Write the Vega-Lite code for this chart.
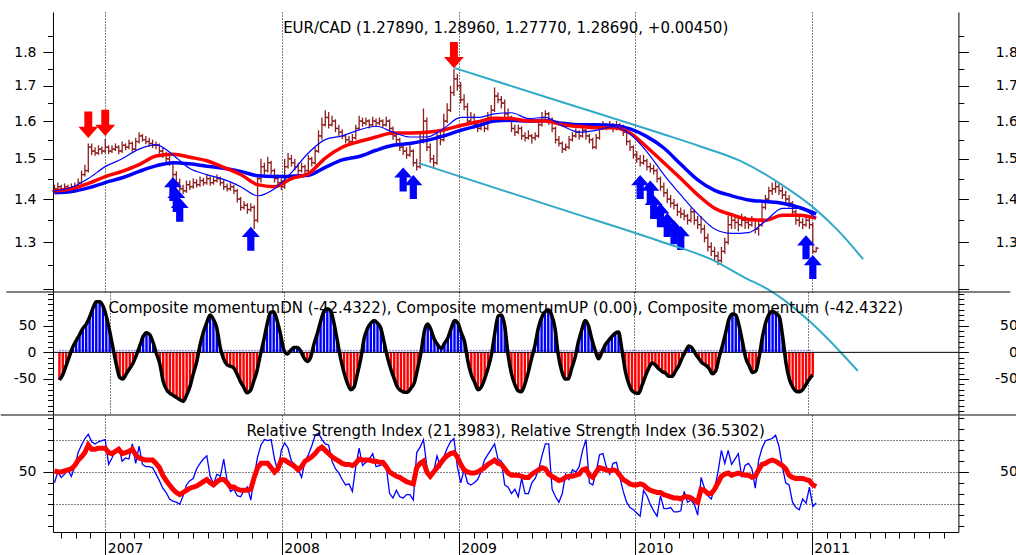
{
"$schema":"https://vega.github.io/schema/vega-lite/v6.json",
"padding":{"top":12,"left":0,"right":0,"bottom":0},
"background":"white",
"bounds":"flush",
"spacing":0,
"config":{
 "view":{"stroke":null},
 "axis":{"labelFont":"DejaVu Sans","labelFontSize":14,"labelColor":"black","domainColor":"black","tickColor":"black","title":null},
 "title":{"font":"DejaVu Sans","fontSize":15,"fontWeight":"normal","color":"black","anchor":"middle","frame":"group","offset":-22,"baseline":"alphabetic"}
},
"resolve":{"scale":{"x":"independent","y":"independent"}},
"datasets":{
"w":[
{"d":"2006-09-18","o":1.42,"h":1.435,"l":1.415,"c":1.425,"m":-52,"r":51,"b":40},
{"d":"2006-09-25","o":1.425,"h":1.44,"l":1.42,"c":1.43,"m":-42,"r":50,"b":50},
{"d":"2006-10-02","o":1.43,"h":1.435,"l":1.412,"c":1.42,"m":-25,"r":50,"b":45},
{"d":"2006-10-09","o":1.42,"h":1.438,"l":1.415,"c":1.43,"m":-7,"r":51,"b":48},
{"d":"2006-10-16","o":1.43,"h":1.435,"l":1.418,"c":1.425,"m":10,"r":52,"b":52},
{"d":"2006-10-23","o":1.425,"h":1.438,"l":1.42,"c":1.43,"m":22,"r":53,"b":46},
{"d":"2006-10-30","o":1.43,"h":1.44,"l":1.422,"c":1.432,"m":33,"r":56,"b":55},
{"d":"2006-11-06","o":1.432,"h":1.45,"l":1.428,"c":1.44,"m":45,"r":61,"b":68},
{"d":"2006-11-13","o":1.44,"h":1.47,"l":1.437,"c":1.46,"m":53,"r":64,"b":75},
{"d":"2006-11-20","o":1.46,"h":1.485,"l":1.455,"c":1.47,"m":66,"r":68,"b":81},
{"d":"2006-11-27","o":1.47,"h":1.54,"l":1.465,"c":1.53,"m":83,"r":75,"b":85},
{"d":"2006-12-04","o":1.53,"h":1.54,"l":1.51,"c":1.52,"m":95,"r":71,"b":78},
{"d":"2006-12-11","o":1.52,"h":1.53,"l":1.508,"c":1.515,"m":95,"r":71,"b":76},
{"d":"2006-12-18","o":1.515,"h":1.535,"l":1.51,"c":1.525,"m":87,"r":72,"b":78},
{"d":"2006-12-25","o":1.525,"h":1.532,"l":1.512,"c":1.52,"m":68,"r":72,"b":79},
{"d":"2007-01-01","o":1.52,"h":1.552,"l":1.515,"c":1.53,"m":40,"r":72,"b":80},
{"d":"2007-01-08","o":1.53,"h":1.535,"l":1.512,"c":1.52,"m":8,"r":68,"b":57},
{"d":"2007-01-15","o":1.52,"h":1.535,"l":1.515,"c":1.525,"m":-23,"r":67,"b":63},
{"d":"2007-01-22","o":1.525,"h":1.54,"l":1.52,"c":1.53,"m":-47,"r":69,"b":70},
{"d":"2007-01-29","o":1.53,"h":1.535,"l":1.512,"c":1.52,"m":-50,"r":71,"b":73},
{"d":"2007-02-05","o":1.52,"h":1.545,"l":1.515,"c":1.535,"m":-40,"r":67,"b":60},
{"d":"2007-02-12","o":1.535,"h":1.54,"l":1.522,"c":1.53,"m":-30,"r":68,"b":63},
{"d":"2007-02-19","o":1.53,"h":1.55,"l":1.525,"c":1.54,"m":-20,"r":69,"b":62},
{"d":"2007-02-26","o":1.54,"h":1.545,"l":1.518,"c":1.525,"m":-5,"r":71,"b":76},
{"d":"2007-03-05","o":1.525,"h":1.555,"l":1.52,"c":1.545,"m":12,"r":66,"b":58},
{"d":"2007-03-12","o":1.545,"h":1.57,"l":1.54,"c":1.56,"m":30,"r":63,"b":74},
{"d":"2007-03-19","o":1.56,"h":1.565,"l":1.545,"c":1.55,"m":37,"r":62,"b":57},
{"d":"2007-03-26","o":1.55,"h":1.56,"l":1.538,"c":1.545,"m":33,"r":61,"b":55},
{"d":"2007-04-02","o":1.545,"h":1.555,"l":1.532,"c":1.54,"m":18,"r":61,"b":55},
{"d":"2007-04-09","o":1.54,"h":1.55,"l":1.528,"c":1.535,"m":-3,"r":61,"b":54},
{"d":"2007-04-16","o":1.535,"h":1.545,"l":1.525,"c":1.535,"m":-22,"r":58,"b":48},
{"d":"2007-04-23","o":1.535,"h":1.54,"l":1.512,"c":1.52,"m":-55,"r":54,"b":42},
{"d":"2007-04-30","o":1.52,"h":1.53,"l":1.502,"c":1.51,"m":-70,"r":47,"b":35},
{"d":"2007-05-07","o":1.51,"h":1.518,"l":1.49,"c":1.5,"m":-77,"r":42,"b":31},
{"d":"2007-05-14","o":1.5,"h":1.508,"l":1.482,"c":1.49,"m":-81,"r":38,"b":25},
{"d":"2007-05-21","o":1.49,"h":1.495,"l":1.452,"c":1.46,"m":-85,"r":34,"b":23},
{"d":"2007-05-28","o":1.46,"h":1.468,"l":1.432,"c":1.44,"m":-89,"r":31,"b":22},
{"d":"2007-06-04","o":1.44,"h":1.45,"l":1.418,"c":1.425,"m":-92,"r":29,"b":20},
{"d":"2007-06-11","o":1.425,"h":1.435,"l":1.412,"c":1.42,"m":-80,"r":31,"b":28},
{"d":"2007-06-18","o":1.42,"h":1.445,"l":1.415,"c":1.435,"m":-64,"r":33,"b":38},
{"d":"2007-06-25","o":1.435,"h":1.445,"l":1.422,"c":1.43,"m":-40,"r":35,"b":42},
{"d":"2007-07-02","o":1.43,"h":1.45,"l":1.425,"c":1.44,"m":-18,"r":36,"b":44},
{"d":"2007-07-09","o":1.44,"h":1.448,"l":1.428,"c":1.435,"m":14,"r":37,"b":53},
{"d":"2007-07-16","o":1.435,"h":1.455,"l":1.43,"c":1.445,"m":38,"r":39,"b":58},
{"d":"2007-07-23","o":1.445,"h":1.452,"l":1.432,"c":1.44,"m":56,"r":41,"b":62},
{"d":"2007-07-30","o":1.44,"h":1.46,"l":1.435,"c":1.45,"m":70,"r":43,"b":65},
{"d":"2007-08-06","o":1.45,"h":1.456,"l":1.432,"c":1.44,"m":62,"r":40,"b":46},
{"d":"2007-08-13","o":1.44,"h":1.455,"l":1.435,"c":1.445,"m":46,"r":38,"b":39},
{"d":"2007-08-20","o":1.445,"h":1.46,"l":1.44,"c":1.45,"m":10,"r":41,"b":48},
{"d":"2007-08-27","o":1.45,"h":1.455,"l":1.432,"c":1.44,"m":-12,"r":43,"b":46},
{"d":"2007-09-03","o":1.44,"h":1.448,"l":1.422,"c":1.43,"m":-23,"r":43,"b":62},
{"d":"2007-09-10","o":1.43,"h":1.438,"l":1.418,"c":1.425,"m":-26,"r":40,"b":42},
{"d":"2007-09-17","o":1.425,"h":1.44,"l":1.42,"c":1.43,"m":-29,"r":36,"b":32},
{"d":"2007-09-24","o":1.43,"h":1.435,"l":1.412,"c":1.42,"m":-40,"r":36,"b":34},
{"d":"2007-10-01","o":1.42,"h":1.425,"l":1.392,"c":1.4,"m":-54,"r":34,"b":28},
{"d":"2007-10-08","o":1.4,"h":1.405,"l":1.372,"c":1.38,"m":-65,"r":33,"b":27},
{"d":"2007-10-15","o":1.38,"h":1.395,"l":1.375,"c":1.385,"m":-76,"r":33,"b":33},
{"d":"2007-10-22","o":1.385,"h":1.39,"l":1.365,"c":1.375,"m":-72,"r":33,"b":36},
{"d":"2007-10-29","o":1.375,"h":1.39,"l":1.37,"c":1.38,"m":-55,"r":34,"b":24},
{"d":"2007-11-05","o":1.38,"h":1.385,"l":1.33,"c":1.35,"m":-35,"r":45,"b":46},
{"d":"2007-11-12","o":1.35,"h":1.46,"l":1.345,"c":1.45,"m":-5,"r":54,"b":64},
{"d":"2007-11-19","o":1.45,"h":1.5,"l":1.44,"c":1.48,"m":22,"r":58,"b":75},
{"d":"2007-11-26","o":1.48,"h":1.49,"l":1.46,"c":1.47,"m":52,"r":58,"b":80},
{"d":"2007-12-03","o":1.47,"h":1.505,"l":1.465,"c":1.49,"m":75,"r":58,"b":79},
{"d":"2007-12-10","o":1.49,"h":1.495,"l":1.46,"c":1.47,"m":76,"r":54,"b":80},
{"d":"2007-12-17","o":1.47,"h":1.475,"l":1.44,"c":1.45,"m":60,"r":50,"b":62},
{"d":"2007-12-24","o":1.45,"h":1.46,"l":1.432,"c":1.44,"m":35,"r":53,"b":50},
{"d":"2007-12-31","o":1.44,"h":1.45,"l":1.422,"c":1.43,"m":5,"r":61,"b":70},
{"d":"2008-01-07","o":1.43,"h":1.5,"l":1.425,"c":1.48,"m":-3,"r":61,"b":77},
{"d":"2008-01-14","o":1.48,"h":1.515,"l":1.475,"c":1.5,"m":3,"r":59,"b":72},
{"d":"2008-01-21","o":1.5,"h":1.51,"l":1.48,"c":1.49,"m":9,"r":57,"b":60},
{"d":"2008-01-28","o":1.49,"h":1.5,"l":1.47,"c":1.48,"m":9,"r":55,"b":57},
{"d":"2008-02-04","o":1.48,"h":1.49,"l":1.46,"c":1.47,"m":3,"r":52,"b":52},
{"d":"2008-02-11","o":1.47,"h":1.49,"l":1.465,"c":1.48,"m":-10,"r":55,"b":45},
{"d":"2008-02-18","o":1.48,"h":1.485,"l":1.455,"c":1.47,"m":-17,"r":60,"b":60},
{"d":"2008-02-25","o":1.47,"h":1.51,"l":1.465,"c":1.5,"m":-10,"r":62,"b":66},
{"d":"2008-03-03","o":1.5,"h":1.505,"l":1.48,"c":1.49,"m":15,"r":64,"b":74},
{"d":"2008-03-10","o":1.49,"h":1.53,"l":1.485,"c":1.52,"m":35,"r":67,"b":84},
{"d":"2008-03-17","o":1.52,"h":1.575,"l":1.515,"c":1.56,"m":58,"r":71,"b":86},
{"d":"2008-03-24","o":1.56,"h":1.61,"l":1.55,"c":1.59,"m":77,"r":73,"b":80},
{"d":"2008-03-31","o":1.59,"h":1.63,"l":1.585,"c":1.61,"m":82,"r":70,"b":76},
{"d":"2008-04-07","o":1.61,"h":1.625,"l":1.58,"c":1.59,"m":78,"r":67,"b":75},
{"d":"2008-04-14","o":1.59,"h":1.615,"l":1.585,"c":1.6,"m":55,"r":64,"b":60},
{"d":"2008-04-21","o":1.6,"h":1.605,"l":1.57,"c":1.58,"m":22,"r":62,"b":53},
{"d":"2008-04-28","o":1.58,"h":1.59,"l":1.56,"c":1.57,"m":-12,"r":60,"b":49},
{"d":"2008-05-05","o":1.57,"h":1.578,"l":1.552,"c":1.56,"m":-38,"r":58,"b":43},
{"d":"2008-05-12","o":1.56,"h":1.565,"l":1.54,"c":1.55,"m":-58,"r":57,"b":38},
{"d":"2008-05-19","o":1.55,"h":1.56,"l":1.535,"c":1.545,"m":-70,"r":57,"b":39},
{"d":"2008-05-26","o":1.545,"h":1.565,"l":1.538,"c":1.555,"m":-65,"r":56,"b":32},
{"d":"2008-06-02","o":1.555,"h":1.59,"l":1.55,"c":1.58,"m":-40,"r":58,"b":55},
{"d":"2008-06-09","o":1.58,"h":1.615,"l":1.575,"c":1.6,"m":-12,"r":62,"b":72},
{"d":"2008-06-16","o":1.6,"h":1.61,"l":1.585,"c":1.595,"m":26,"r":61,"b":56},
{"d":"2008-06-23","o":1.595,"h":1.61,"l":1.588,"c":1.6,"m":45,"r":61,"b":59},
{"d":"2008-06-30","o":1.6,"h":1.605,"l":1.58,"c":1.59,"m":55,"r":61,"b":62},
{"d":"2008-07-07","o":1.59,"h":1.612,"l":1.585,"c":1.6,"m":60,"r":60,"b":67},
{"d":"2008-07-14","o":1.6,"h":1.607,"l":1.585,"c":1.595,"m":55,"r":60,"b":55},
{"d":"2008-07-21","o":1.595,"h":1.61,"l":1.588,"c":1.6,"m":45,"r":59,"b":56},
{"d":"2008-07-28","o":1.6,"h":1.605,"l":1.582,"c":1.59,"m":18,"r":59,"b":57},
{"d":"2008-08-04","o":1.59,"h":1.612,"l":1.585,"c":1.6,"m":-10,"r":55,"b":55},
{"d":"2008-08-11","o":1.6,"h":1.605,"l":1.57,"c":1.58,"m":-32,"r":50,"b":30},
{"d":"2008-08-18","o":1.58,"h":1.585,"l":1.55,"c":1.56,"m":-50,"r":48,"b":26},
{"d":"2008-08-25","o":1.56,"h":1.57,"l":1.54,"c":1.55,"m":-66,"r":46,"b":33},
{"d":"2008-09-01","o":1.55,"h":1.555,"l":1.52,"c":1.53,"m":-72,"r":45,"b":27},
{"d":"2008-09-08","o":1.53,"h":1.54,"l":1.51,"c":1.52,"m":-75,"r":43,"b":26},
{"d":"2008-09-15","o":1.52,"h":1.53,"l":1.5,"c":1.51,"m":-75,"r":41,"b":29},
{"d":"2008-09-22","o":1.51,"h":1.535,"l":1.505,"c":1.52,"m":-67,"r":40,"b":29},
{"d":"2008-09-29","o":1.52,"h":1.525,"l":1.48,"c":1.49,"m":-57,"r":39,"b":24},
{"d":"2008-10-06","o":1.49,"h":1.5,"l":1.47,"c":1.48,"m":-30,"r":54,"b":68},
{"d":"2008-10-13","o":1.48,"h":1.57,"l":1.475,"c":1.55,"m":0,"r":58,"b":73},
{"d":"2008-10-20","o":1.55,"h":1.635,"l":1.54,"c":1.6,"m":40,"r":60,"b":80},
{"d":"2008-10-27","o":1.6,"h":1.61,"l":1.52,"c":1.53,"m":53,"r":50,"b":55},
{"d":"2008-11-03","o":1.53,"h":1.54,"l":1.49,"c":1.5,"m":42,"r":46,"b":45},
{"d":"2008-11-10","o":1.5,"h":1.51,"l":1.475,"c":1.49,"m":24,"r":50,"b":50},
{"d":"2008-11-17","o":1.49,"h":1.57,"l":1.485,"c":1.56,"m":14,"r":54,"b":65},
{"d":"2008-11-24","o":1.56,"h":1.575,"l":1.535,"c":1.55,"m":7,"r":58,"b":55},
{"d":"2008-12-01","o":1.55,"h":1.62,"l":1.545,"c":1.6,"m":17,"r":62,"b":64},
{"d":"2008-12-08","o":1.6,"h":1.65,"l":1.595,"c":1.63,"m":27,"r":65,"b":72},
{"d":"2008-12-15","o":1.63,"h":1.7,"l":1.625,"c":1.68,"m":45,"r":67,"b":78},
{"d":"2008-12-22","o":1.68,"h":1.75,"l":1.67,"c":1.72,"m":60,"r":68,"b":81},
{"d":"2008-12-29","o":1.72,"h":1.735,"l":1.685,"c":1.7,"m":55,"r":64,"b":55},
{"d":"2009-01-05","o":1.7,"h":1.71,"l":1.65,"c":1.66,"m":37,"r":57,"b":40},
{"d":"2009-01-12","o":1.66,"h":1.675,"l":1.63,"c":1.64,"m":20,"r":52,"b":52},
{"d":"2009-01-19","o":1.64,"h":1.65,"l":1.59,"c":1.6,"m":-17,"r":50,"b":40},
{"d":"2009-01-26","o":1.6,"h":1.625,"l":1.595,"c":1.61,"m":-42,"r":49,"b":38},
{"d":"2009-02-02","o":1.61,"h":1.62,"l":1.58,"c":1.59,"m":-56,"r":49,"b":40},
{"d":"2009-02-09","o":1.59,"h":1.6,"l":1.57,"c":1.58,"m":-70,"r":50,"b":43},
{"d":"2009-02-16","o":1.58,"h":1.6,"l":1.575,"c":1.59,"m":-65,"r":52,"b":50},
{"d":"2009-02-23","o":1.59,"h":1.595,"l":1.57,"c":1.58,"m":-50,"r":54,"b":61},
{"d":"2009-03-02","o":1.58,"h":1.625,"l":1.575,"c":1.61,"m":-30,"r":57,"b":66},
{"d":"2009-03-09","o":1.61,"h":1.645,"l":1.605,"c":1.63,"m":-5,"r":59,"b":71},
{"d":"2009-03-16","o":1.63,"h":1.695,"l":1.625,"c":1.67,"m":35,"r":61,"b":76},
{"d":"2009-03-23","o":1.67,"h":1.68,"l":1.65,"c":1.66,"m":68,"r":58,"b":62},
{"d":"2009-03-30","o":1.66,"h":1.67,"l":1.635,"c":1.65,"m":70,"r":57,"b":60},
{"d":"2009-04-06","o":1.65,"h":1.66,"l":1.61,"c":1.62,"m":50,"r":53,"b":38},
{"d":"2009-04-13","o":1.62,"h":1.635,"l":1.6,"c":1.61,"m":-5,"r":49,"b":36},
{"d":"2009-04-20","o":1.61,"h":1.615,"l":1.57,"c":1.58,"m":-40,"r":47,"b":30},
{"d":"2009-04-27","o":1.58,"h":1.59,"l":1.56,"c":1.57,"m":-60,"r":47,"b":34},
{"d":"2009-05-04","o":1.57,"h":1.59,"l":1.565,"c":1.58,"m":-72,"r":47,"b":27},
{"d":"2009-05-11","o":1.58,"h":1.585,"l":1.55,"c":1.56,"m":-74,"r":46,"b":44},
{"d":"2009-05-18","o":1.56,"h":1.57,"l":1.545,"c":1.555,"m":-60,"r":45,"b":30},
{"d":"2009-05-25","o":1.555,"h":1.575,"l":1.55,"c":1.56,"m":-38,"r":45,"b":30},
{"d":"2009-06-01","o":1.56,"h":1.565,"l":1.54,"c":1.555,"m":-12,"r":48,"b":40},
{"d":"2009-06-08","o":1.555,"h":1.57,"l":1.548,"c":1.56,"m":12,"r":50,"b":44},
{"d":"2009-06-15","o":1.56,"h":1.6,"l":1.555,"c":1.59,"m":45,"r":52,"b":52},
{"d":"2009-06-22","o":1.59,"h":1.625,"l":1.585,"c":1.61,"m":65,"r":54,"b":65},
{"d":"2009-06-29","o":1.61,"h":1.63,"l":1.6,"c":1.62,"m":76,"r":53,"b":76},
{"d":"2009-07-06","o":1.62,"h":1.625,"l":1.59,"c":1.6,"m":80,"r":48,"b":76},
{"d":"2009-07-13","o":1.6,"h":1.61,"l":1.57,"c":1.58,"m":70,"r":46,"b":34},
{"d":"2009-07-20","o":1.58,"h":1.585,"l":1.54,"c":1.55,"m":46,"r":44,"b":27},
{"d":"2009-07-27","o":1.55,"h":1.56,"l":1.532,"c":1.54,"m":-5,"r":42,"b":22},
{"d":"2009-08-03","o":1.54,"h":1.545,"l":1.515,"c":1.525,"m":-35,"r":43,"b":30},
{"d":"2009-08-10","o":1.525,"h":1.54,"l":1.52,"c":1.53,"m":-50,"r":45,"b":48},
{"d":"2009-08-17","o":1.53,"h":1.56,"l":1.525,"c":1.55,"m":-50,"r":46,"b":43},
{"d":"2009-08-24","o":1.55,"h":1.57,"l":1.545,"c":1.56,"m":-30,"r":46,"b":52},
{"d":"2009-08-31","o":1.56,"h":1.58,"l":1.555,"c":1.57,"m":-10,"r":47,"b":50},
{"d":"2009-09-07","o":1.57,"h":1.575,"l":1.55,"c":1.56,"m":20,"r":48,"b":55},
{"d":"2009-09-14","o":1.56,"h":1.585,"l":1.555,"c":1.575,"m":42,"r":52,"b":70},
{"d":"2009-09-21","o":1.575,"h":1.58,"l":1.55,"c":1.56,"m":60,"r":53,"b":80},
{"d":"2009-09-28","o":1.56,"h":1.565,"l":1.54,"c":1.55,"m":50,"r":47,"b":40},
{"d":"2009-10-05","o":1.55,"h":1.555,"l":1.525,"c":1.53,"m":25,"r":45,"b":38},
{"d":"2009-10-12","o":1.53,"h":1.565,"l":1.525,"c":1.555,"m":4,"r":50,"b":50},
{"d":"2009-10-19","o":1.555,"h":1.59,"l":1.55,"c":1.58,"m":-12,"r":54,"b":66},
{"d":"2009-10-26","o":1.58,"h":1.6,"l":1.575,"c":1.59,"m":0,"r":53,"b":67},
{"d":"2009-11-02","o":1.59,"h":1.595,"l":1.575,"c":1.585,"m":14,"r":52,"b":55},
{"d":"2009-11-09","o":1.585,"h":1.6,"l":1.58,"c":1.59,"m":22,"r":51,"b":48},
{"d":"2009-11-16","o":1.59,"h":1.595,"l":1.57,"c":1.58,"m":30,"r":52,"b":58},
{"d":"2009-11-23","o":1.58,"h":1.6,"l":1.575,"c":1.59,"m":36,"r":51,"b":59},
{"d":"2009-11-30","o":1.59,"h":1.595,"l":1.575,"c":1.585,"m":38,"r":47,"b":45},
{"d":"2009-12-07","o":1.585,"h":1.59,"l":1.56,"c":1.57,"m":5,"r":43,"b":32},
{"d":"2009-12-14","o":1.57,"h":1.575,"l":1.535,"c":1.545,"m":-35,"r":41,"b":22},
{"d":"2009-12-21","o":1.545,"h":1.55,"l":1.52,"c":1.53,"m":-58,"r":39,"b":17},
{"d":"2009-12-28","o":1.53,"h":1.535,"l":1.5,"c":1.51,"m":-72,"r":38,"b":15},
{"d":"2010-01-04","o":1.51,"h":1.52,"l":1.49,"c":1.5,"m":-76,"r":38,"b":12},
{"d":"2010-01-11","o":1.5,"h":1.51,"l":1.48,"c":1.49,"m":-77,"r":39,"b":9},
{"d":"2010-01-18","o":1.49,"h":1.51,"l":1.485,"c":1.495,"m":-62,"r":38,"b":33},
{"d":"2010-01-25","o":1.495,"h":1.5,"l":1.47,"c":1.48,"m":-45,"r":35,"b":28},
{"d":"2010-02-01","o":1.48,"h":1.49,"l":1.465,"c":1.475,"m":-30,"r":33,"b":20},
{"d":"2010-02-08","o":1.475,"h":1.485,"l":1.46,"c":1.47,"m":-20,"r":32,"b":14},
{"d":"2010-02-15","o":1.47,"h":1.475,"l":1.44,"c":1.45,"m":-24,"r":31,"b":9},
{"d":"2010-02-22","o":1.45,"h":1.455,"l":1.42,"c":1.43,"m":-31,"r":31,"b":28},
{"d":"2010-03-01","o":1.43,"h":1.44,"l":1.405,"c":1.415,"m":-36,"r":29,"b":16},
{"d":"2010-03-08","o":1.415,"h":1.425,"l":1.39,"c":1.4,"m":-39,"r":28,"b":16},
{"d":"2010-03-15","o":1.4,"h":1.41,"l":1.38,"c":1.39,"m":-45,"r":27,"b":17},
{"d":"2010-03-22","o":1.39,"h":1.4,"l":1.375,"c":1.385,"m":-45,"r":26,"b":13},
{"d":"2010-03-29","o":1.385,"h":1.39,"l":1.36,"c":1.37,"m":-35,"r":26,"b":13},
{"d":"2010-04-05","o":1.37,"h":1.38,"l":1.355,"c":1.365,"m":-25,"r":25,"b":14},
{"d":"2010-04-12","o":1.365,"h":1.375,"l":1.35,"c":1.36,"m":-10,"r":27,"b":32},
{"d":"2010-04-19","o":1.36,"h":1.365,"l":1.34,"c":1.35,"m":2,"r":27,"b":22},
{"d":"2010-04-26","o":1.35,"h":1.38,"l":1.345,"c":1.37,"m":12,"r":26,"b":24},
{"d":"2010-05-03","o":1.37,"h":1.375,"l":1.34,"c":1.35,"m":8,"r":24,"b":20},
{"d":"2010-05-10","o":1.35,"h":1.36,"l":1.33,"c":1.34,"m":-3,"r":22,"b":10},
{"d":"2010-05-17","o":1.34,"h":1.36,"l":1.32,"c":1.33,"m":-12,"r":34,"b":45},
{"d":"2010-05-24","o":1.33,"h":1.34,"l":1.3,"c":1.31,"m":-20,"r":33,"b":35},
{"d":"2010-05-31","o":1.31,"h":1.32,"l":1.28,"c":1.29,"m":-24,"r":30,"b":28},
{"d":"2010-06-07","o":1.29,"h":1.3,"l":1.27,"c":1.28,"m":-30,"r":30,"b":25},
{"d":"2010-06-14","o":1.28,"h":1.29,"l":1.26,"c":1.27,"m":-40,"r":34,"b":35},
{"d":"2010-06-21","o":1.27,"h":1.28,"l":1.25,"c":1.26,"m":-35,"r":40,"b":50},
{"d":"2010-06-28","o":1.26,"h":1.29,"l":1.255,"c":1.28,"m":-10,"r":46,"b":70},
{"d":"2010-07-05","o":1.28,"h":1.31,"l":1.275,"c":1.3,"m":12,"r":48,"b":58},
{"d":"2010-07-12","o":1.3,"h":1.36,"l":1.295,"c":1.34,"m":37,"r":49,"b":70},
{"d":"2010-07-19","o":1.34,"h":1.365,"l":1.33,"c":1.35,"m":63,"r":47,"b":57},
{"d":"2010-07-26","o":1.35,"h":1.36,"l":1.33,"c":1.345,"m":72,"r":48,"b":62},
{"d":"2010-08-02","o":1.345,"h":1.355,"l":1.325,"c":1.34,"m":70,"r":49,"b":67},
{"d":"2010-08-09","o":1.34,"h":1.365,"l":1.335,"c":1.35,"m":50,"r":48,"b":45},
{"d":"2010-08-16","o":1.35,"h":1.36,"l":1.33,"c":1.345,"m":20,"r":47,"b":56},
{"d":"2010-08-23","o":1.345,"h":1.355,"l":1.33,"c":1.34,"m":-11,"r":47,"b":58},
{"d":"2010-08-30","o":1.34,"h":1.36,"l":1.335,"c":1.35,"m":-25,"r":45,"b":53},
{"d":"2010-09-06","o":1.35,"h":1.355,"l":1.32,"c":1.33,"m":-38,"r":46,"b":35},
{"d":"2010-09-13","o":1.33,"h":1.35,"l":1.315,"c":1.34,"m":-35,"r":52,"b":61},
{"d":"2010-09-20","o":1.34,"h":1.39,"l":1.335,"c":1.38,"m":-8,"r":57,"b":72},
{"d":"2010-09-27","o":1.38,"h":1.41,"l":1.375,"c":1.4,"m":30,"r":58,"b":79},
{"d":"2010-10-04","o":1.4,"h":1.43,"l":1.395,"c":1.42,"m":57,"r":60,"b":80},
{"d":"2010-10-11","o":1.42,"h":1.44,"l":1.41,"c":1.425,"m":72,"r":61,"b":81},
{"d":"2010-10-18","o":1.425,"h":1.445,"l":1.415,"c":1.43,"m":77,"r":60,"b":84},
{"d":"2010-10-25","o":1.43,"h":1.44,"l":1.41,"c":1.42,"m":73,"r":58,"b":74},
{"d":"2010-11-01","o":1.42,"h":1.43,"l":1.4,"c":1.41,"m":67,"r":56,"b":55},
{"d":"2010-11-08","o":1.41,"h":1.42,"l":1.39,"c":1.4,"m":30,"r":53,"b":40},
{"d":"2010-11-15","o":1.4,"h":1.41,"l":1.38,"c":1.39,"m":-20,"r":47,"b":38},
{"d":"2010-11-22","o":1.39,"h":1.395,"l":1.36,"c":1.37,"m":-50,"r":45,"b":22},
{"d":"2010-11-29","o":1.37,"h":1.375,"l":1.34,"c":1.35,"m":-65,"r":44,"b":17},
{"d":"2010-12-06","o":1.35,"h":1.36,"l":1.335,"c":1.345,"m":-73,"r":44,"b":15},
{"d":"2010-12-13","o":1.345,"h":1.355,"l":1.33,"c":1.34,"m":-74,"r":44,"b":25},
{"d":"2010-12-20","o":1.34,"h":1.36,"l":1.335,"c":1.35,"m":-70,"r":43,"b":21},
{"d":"2010-12-27","o":1.35,"h":1.355,"l":1.33,"c":1.34,"m":-60,"r":42,"b":36},
{"d":"2011-01-03","o":1.34,"h":1.345,"l":1.275,"c":1.28,"m":-50,"r":38,"b":18},
{"d":"2011-01-10","o":1.279,"h":1.29,"l":1.278,"c":1.287,"m":-42.43,"r":36.53,"b":21.4}
],
"ma":[
{"d":"2006-09-18","a":1.415,"b":1.42,"c":1.42},
{"d":"2006-10-23","a":1.418,"b":1.425,"c":1.428},
{"d":"2006-11-27","a":1.427,"b":1.438,"c":1.45},
{"d":"2007-01-01","a":1.44,"b":1.455,"c":1.48},
{"d":"2007-02-05","a":1.452,"b":1.468,"c":1.5},
{"d":"2007-03-12","a":1.468,"b":1.485,"c":1.525},
{"d":"2007-04-16","a":1.482,"b":1.507,"c":1.537},
{"d":"2007-05-21","a":1.49,"b":1.512,"c":1.51},
{"d":"2007-06-25","a":1.487,"b":1.504,"c":1.475},
{"d":"2007-07-30","a":1.481,"b":1.495,"c":1.46},
{"d":"2007-09-03","a":1.476,"b":1.478,"c":1.448},
{"d":"2007-10-08","a":1.468,"b":1.46,"c":1.43},
{"d":"2007-11-12","a":1.457,"b":1.435,"c":1.408},
{"d":"2007-12-17","a":1.455,"b":1.43,"c":1.425},
{"d":"2008-01-21","a":1.456,"b":1.45,"c":1.465},
{"d":"2008-02-25","a":1.458,"b":1.462,"c":1.515},
{"d":"2008-03-31","a":1.478,"b":1.502,"c":1.55},
{"d":"2008-05-05","a":1.497,"b":1.53,"c":1.56},
{"d":"2008-06-09","a":1.506,"b":1.545,"c":1.576},
{"d":"2008-07-14","a":1.522,"b":1.557,"c":1.586},
{"d":"2008-08-18","a":1.535,"b":1.568,"c":1.57},
{"d":"2008-09-22","a":1.54,"b":1.568,"c":1.557},
{"d":"2008-10-27","a":1.548,"b":1.57,"c":1.557},
{"d":"2008-12-01","a":1.56,"b":1.576,"c":1.58},
{"d":"2009-01-05","a":1.575,"b":1.588,"c":1.61},
{"d":"2009-02-09","a":1.587,"b":1.598,"c":1.61},
{"d":"2009-03-16","a":1.6,"b":1.608,"c":1.62},
{"d":"2009-04-20","a":1.602,"b":1.607,"c":1.623},
{"d":"2009-05-25","a":1.6,"b":1.6,"c":1.607},
{"d":"2009-06-29","a":1.601,"b":1.6,"c":1.61},
{"d":"2009-08-03","a":1.594,"b":1.59,"c":1.587},
{"d":"2009-09-07","a":1.59,"b":1.585,"c":1.57},
{"d":"2009-10-12","a":1.59,"b":1.582,"c":1.575},
{"d":"2009-11-16","a":1.588,"b":1.582,"c":1.585},
{"d":"2009-12-21","a":1.579,"b":1.568,"c":1.565},
{"d":"2010-01-25","a":1.558,"b":1.53,"c":1.518},
{"d":"2010-03-01","a":1.528,"b":1.49,"c":1.46},
{"d":"2010-04-05","a":1.486,"b":1.45,"c":1.41},
{"d":"2010-05-10","a":1.447,"b":1.41,"c":1.365},
{"d":"2010-06-14","a":1.421,"b":1.378,"c":1.33},
{"d":"2010-07-19","a":1.408,"b":1.363,"c":1.32},
{"d":"2010-08-23","a":1.398,"b":1.352,"c":1.322},
{"d":"2010-09-27","a":1.394,"b":1.35,"c":1.348},
{"d":"2010-11-01","a":1.39,"b":1.362,"c":1.378},
{"d":"2010-12-06","a":1.38,"b":1.362,"c":1.378},
{"d":"2011-01-10","a":1.365,"b":1.355,"c":1.355}
],
"ch":[
{"g":"u","d":"2008-12-24","v":1.752},
{"g":"u","d":"2009-07-31","v":1.654},
{"g":"u","d":"2010-02-22","v":1.567},
{"g":"u","d":"2010-05-16","v":1.532},
{"g":"u","d":"2010-08-07","v":1.494},
{"g":"u","d":"2010-11-01","v":1.434},
{"g":"u","d":"2011-01-02","v":1.382},
{"g":"u","d":"2011-02-23","v":1.328},
{"g":"u","d":"2011-04-17","v":1.263},
{"g":"l","d":"2008-10-10","v":1.489},
{"g":"l","d":"2009-07-31","v":1.376},
{"g":"l","d":"2010-02-22","v":1.302},
{"g":"l","d":"2010-06-06","v":1.263},
{"g":"l","d":"2010-08-13","v":1.225},
{"g":"l","d":"2010-10-08","v":1.196},
{"g":"l","d":"2010-11-04","v":1.178},
{"g":"l","d":"2010-12-29","v":1.134},
{"g":"l","d":"2011-03-01","v":1.0775},
{"g":"l","d":"2011-04-06","v":1.043}
],
"dn":[
{"d":"2006-11-27","v":1.555},
{"d":"2007-01-01","v":1.56},
{"d":"2008-12-22","v":1.752}
],
"up":[
{"d":"2007-05-21","v":1.454},
{"d":"2007-05-28","v":1.427},
{"d":"2007-06-04","v":1.403},
{"d":"2007-10-29","v":1.335},
{"d":"2008-09-08","v":1.478},
{"d":"2008-09-29","v":1.459},
{"d":"2010-01-11","v":1.459},
{"d":"2010-02-01","v":1.445},
{"d":"2010-02-08","v":1.41},
{"d":"2010-02-22","v":1.39},
{"d":"2010-03-08","v":1.367},
{"d":"2010-03-22","v":1.35},
{"d":"2010-04-05","v":1.337},
{"d":"2010-12-20","v":1.316},
{"d":"2011-01-03","v":1.272}
],
"sep":[{"a":"2006-05-30","b":"2012-02-27"}],
"base":[{"a":"2006-09-18","b":"2011-01-10"}],
"one":[{"k":1}]
},
"vconcat":[
{
 "width":905.4,"height":280,
 "title":{"text":"EUR/CAD (1.27890, 1.28960, 1.27770, 1.28690, +0.00450)","offset":-24},
 "resolve":{"axis":{"y":"independent"}},
 "layer":[
  {"data":{"name":"w"},"mark":{"type":"rule","color":"#8C1E1E","strokeWidth":1.3},
   "encoding":{
    "x":{"field":"d","type":"temporal","scale":{"domain":["2006-09-15","2011-10-31"]},
         "axis":{"title":null,"grid":true,"gridColor":"black","gridDash":[1,2],"gridOpacity":1,"ticks":false,"labels":false,"domain":false,"tickCount":{"interval":"year","step":1}}},
    "y":{"field":"l","type":"quantitative","scale":{"type":"log","domain":[1.194,1.9287],"nice":false},
         "axis":{"orient":"left","title":null,"grid":false,"values":[1.2,1.25,1.3,1.35,1.4,1.45,1.5,1.55,1.6,1.65,1.7,1.75,1.8,1.85],
                 "tickSize":{"condition":{"test":"abs(datum.value*10-round(datum.value*10))<0.001","value":10},"value":5.5},
                 "labelExpr":"abs(datum.value*10-round(datum.value*10))<0.001 && datum.value>1.25 ? format(datum.value,'.1f') : ''",
                 "labelPadding":7,"labelOverlap":false,"labelFlush":false,"labelBound":false}},
    "y2":{"field":"h"}
   }},
  {"data":{"name":"w"},"mark":{"type":"rule","color":"#8C1E1E","strokeWidth":1.3,"xOffset":-2.5},
   "encoding":{"x":{"field":"d","type":"temporal"},"x2":{"field":"d"},"y":{"field":"o","type":"quantitative","axis":null}}},
  {"data":{"name":"w"},"mark":{"type":"rule","color":"#8C1E1E","strokeWidth":1.3,"x2Offset":2.5},
   "encoding":{"x":{"field":"d","type":"temporal"},"x2":{"field":"d"},"y":{"field":"c","type":"quantitative","axis":null}}},
  {"data":{"name":"ma"},"mark":{"type":"line","color":"#0000FF","strokeWidth":3.5,"interpolate":"monotone"},
   "encoding":{"x":{"field":"d","type":"temporal"},"y":{"field":"a","type":"quantitative","axis":null}}},
  {"data":{"name":"ma"},"mark":{"type":"line","color":"#FF0000","strokeWidth":3.5,"interpolate":"monotone"},
   "encoding":{"x":{"field":"d","type":"temporal"},"y":{"field":"b","type":"quantitative","axis":null}}},
  {"data":{"name":"ma"},"mark":{"type":"line","color":"#0000FF","strokeWidth":1.2,"interpolate":"monotone"},
   "encoding":{"x":{"field":"d","type":"temporal"},"y":{"field":"c","type":"quantitative","axis":null}}},
  {"data":{"name":"dn"},"mark":{"type":"point","filled":true,"color":"#FF0000","opacity":1,"size":700,"yOffset":-13,"shape":"M0,1L0.75,0.15L0.3,0.15L0.3,-1L-0.3,-1L-0.3,0.15L-0.75,0.15Z"},
   "encoding":{"x":{"field":"d","type":"temporal"},"y":{"field":"v","type":"quantitative","axis":null}}},
  {"data":{"name":"up"},"mark":{"type":"point","filled":true,"color":"#0000FF","opacity":1,"size":576,"yOffset":12,"shape":"M0,-1L0.75,-0.15L0.3,-0.15L0.3,1L-0.3,1L-0.3,-0.15L-0.75,-0.15Z"},
   "encoding":{"x":{"field":"d","type":"temporal"},"y":{"field":"v","type":"quantitative","axis":null}}},
  {"data":{"name":"ch"},"mark":{"type":"line","color":"#31A9C8","strokeWidth":2,"interpolate":"monotone"},
   "encoding":{"x":{"field":"d","type":"temporal"},"detail":{"field":"g"},
    "y":{"field":"v","type":"quantitative",
         "axis":{"orient":"right","title":null,"grid":false,"values":[1.2,1.25,1.3,1.35,1.4,1.45,1.5,1.55,1.6,1.65,1.7,1.75,1.8,1.85],
                 "tickSize":{"condition":{"test":"abs(datum.value*10-round(datum.value*10))<0.001","value":10},"value":5.5},
                 "labelExpr":"abs(datum.value*10-round(datum.value*10))<0.001 && datum.value>1.25 ? format(datum.value,'.1f') : ''",
                 "labelAlign":"right","labelPadding":49,"labelOverlap":false,"labelFlush":false,"labelBound":false}}}}
 ]
},
{
 "width":905.4,"height":122.4,
 "title":{"text":"Composite momentumDN (-42.4322), Composite momentumUP (0.00), Composite momentum (-42.4322)","offset":-29},
 "resolve":{"axis":{"y":"independent"}},
 "layer":[
  {"data":{"name":"w"},"mark":{"type":"bar","width":2.4},
   "encoding":{
    "x":{"field":"d","type":"temporal","scale":{"domain":["2006-09-15","2011-10-31"]},
         "axis":{"title":null,"grid":true,"gridColor":"black","gridDash":[1,2],"gridOpacity":1,"ticks":false,"labels":false,"domain":false,"tickCount":{"interval":"year","step":1}}},
    "y":{"field":"m","type":"quantitative","stack":null,"scale":{"domain":[-116.5,113.3],"nice":false,"zero":false},
         "axis":{"orient":"left","title":null,"grid":false,"values":[-110,-100,-90,-80,-70,-60,-50,-40,-30,-20,-10,0,10,20,30,40,50,60,70,80,90,100,110],
                 "tickSize":{"condition":{"test":"datum.value%50==0 && abs(datum.value)<=50","value":10},"value":5.5},
                 "labelExpr":"datum.value%50==0 && abs(datum.value)<=50 ? ''+datum.value : ''",
                 "labelPadding":7,"labelOverlap":false,"labelFlush":false,"labelBound":false}},
    "y2":{"datum":0},
    "color":{"condition":{"test":"datum.m > 0","value":"#0000FF"},"value":"#FF0000"}
   }},
  {"data":{"name":"one"},"mark":{"type":"rule","color":"black","strokeWidth":1},
   "encoding":{"y":{"datum":0,"type":"quantitative","axis":null}}},
  {"data":{"name":"base"},"mark":{"type":"rule","color":"#0000FF","strokeWidth":1,"strokeDash":[1,2],"yOffset":-2},
   "encoding":{"x":{"field":"a","type":"temporal"},"x2":{"field":"b"},"y":{"datum":0,"type":"quantitative","axis":null}}},
  {"data":{"name":"w"},"mark":{"type":"line","color":"black","strokeWidth":3.5,"interpolate":"monotone"},
   "encoding":{"x":{"field":"d","type":"temporal"},
    "y":{"field":"m","type":"quantitative",
         "axis":{"orient":"right","title":null,"grid":false,"values":[-110,-100,-90,-80,-70,-60,-50,-40,-30,-20,-10,0,10,20,30,40,50,60,70,80,90,100,110],
                 "tickSize":{"condition":{"test":"datum.value%50==0 && abs(datum.value)<=50","value":10},"value":5.5},
                 "labelExpr":"datum.value%50==0 && abs(datum.value)<=50 ? ''+datum.value : ''",
                 "labelAlign":"right","labelPadding":49,"labelOverlap":false,"labelFlush":false,"labelBound":false}}}},
  {"data":{"name":"sep"},"mark":{"type":"rule","color":"black","strokeWidth":1},
   "encoding":{"x":{"field":"a","type":"temporal"},"x2":{"field":"b"},"y":{"datum":113.3,"type":"quantitative","axis":null}}}
 ]
},
{
 "width":905.4,"height":117,
 "title":{"text":"Relative Strength Index (21.3983), Relative Strength Index (36.5302)","offset":-28},
 "resolve":{"axis":{"y":"independent"}},
 "layer":[
  {"data":{"name":"w"},"mark":{"type":"line","color":"#0000FF","strokeWidth":1.3},
   "encoding":{
    "x":{"field":"d","type":"temporal","scale":{"domain":["2006-09-15","2011-10-31"]},
         "axis":{"orient":"bottom","title":null,"tickCount":{"interval":"month","step":1},
                 "grid":true,"gridColor":"black","gridDash":[1,2],
                 "gridOpacity":{"condition":{"test":"month(datum.value)==0","value":1},"value":0},
                 "tickSize":{"condition":{"test":"month(datum.value)==0","value":23},"value":6},
                 "labelExpr":"month(datum.value)==0 ? timeFormat(datum.value,'%Y') : ''",
                 "labelAlign":"left","labelBaseline":"top","labelPadding":-13,"labelOffset":2,
                 "labelFlush":false,"labelOverlap":false,"labelBound":false}},
    "y":{"field":"b","type":"quantitative","scale":{"domain":[-5.6,102.8],"nice":false,"zero":false},
         "axis":{"orient":"left","title":null,"values":[0,10,20,30,40,50,60,70,80,90,100],
                 "grid":true,"gridColor":"black","gridDash":[1,2],
                 "gridOpacity":{"condition":{"test":"datum.value==20 || datum.value==50 || datum.value==80","value":1},"value":0},
                 "tickSize":{"condition":{"test":"datum.value==50","value":10},"value":5.5},
                 "labelExpr":"datum.value==50 ? '50' : ''",
                 "labelPadding":7,"labelOverlap":false,"labelFlush":false,"labelBound":false}}
   }},
  {"data":{"name":"w"},"mark":{"type":"line","color":"#FF0000","strokeWidth":5},
   "encoding":{"x":{"field":"d","type":"temporal"},
    "y":{"field":"r","type":"quantitative",
         "axis":{"orient":"right","title":null,"grid":false,"values":[0,10,20,30,40,50,60,70,80,90,100],
                 "tickSize":{"condition":{"test":"datum.value==50","value":10},"value":5.5},
                 "labelExpr":"datum.value==50 ? '50' : ''",
                 "labelAlign":"right","labelPadding":49,"labelOverlap":false,"labelFlush":false,"labelBound":false}}}},
  {"data":{"name":"sep"},"mark":{"type":"rule","color":"black","strokeWidth":1},
   "encoding":{"x":{"field":"a","type":"temporal"},"x2":{"field":"b"},"y":{"datum":102.8,"type":"quantitative","axis":null}}}
 ]
}
]
}
